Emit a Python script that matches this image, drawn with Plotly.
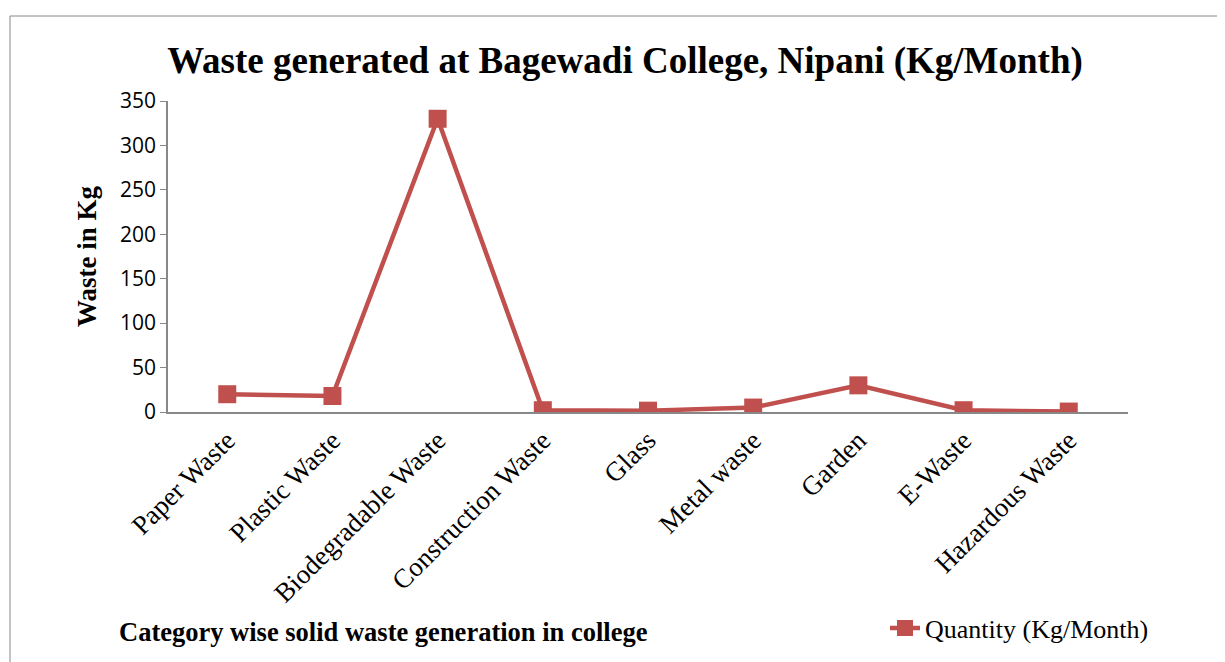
import plotly.graph_objs as go

categories = ['Paper Waste', 'Plastic Waste', 'Biodegradable Waste', 'Construction Waste',
              'Glass', 'Metal waste', 'Garden', 'E-Waste', 'Hazardous Waste']
quantity = [20, 18, 330, 2, 1.5, 5, 30, 2, 0.5]
y_ticks = [0, 50, 100, 150, 200, 250, 300, 350]

red = '#C0504D'
serif = 'Liberation Serif'

fig = go.Figure(go.Scatter(
    x=categories, y=quantity, mode='lines+markers',
    name='Quantity (Kg/Month)',
    line=dict(color=red, width=4.5),
    marker=dict(symbol='square', size=18, color=red),
))

# plot area in figure pixels: x 160..1120, y 93..404 (page has 8px body offset)
fig.update_layout(
    width=1225, height=662,
    autosize=False,
    margin=dict(l=160, r=105, t=93, b=258),
    paper_bgcolor='white',
    plot_bgcolor='white',
    title=dict(text='<b>Waste generated at Bagewadi College, Nipani (Kg/Month)</b>',
               x=617 / 1225, xanchor='center', y=1 - 52 / 662, yanchor='middle',
               font=dict(family=serif, size=37, color='black')),
    showlegend=True,
    legend=dict(x=(877 - 160) / 960, y=(404 - 620) / 311, xanchor='left', yanchor='middle',
                font=dict(family=serif, size=26, color='black'),
                bgcolor='rgba(0,0,0,0)'),
    xaxis=dict(tickangle=-45, showgrid=False, showline=True, linecolor='#888888', linewidth=1.5,
               ticks='', tickfont=dict(family=serif, size=27, color='black')),
    yaxis=dict(range=[0, 350], tickvals=y_ticks, showgrid=False, showline=True,
               linecolor='#888888', linewidth=1.5, ticks='outside', ticklen=6, tickcolor='#888888',
               tickfont=dict(family='Open Sans', size=21, color='black'), zeroline=False,
               title=dict(text='<b>Waste in Kg</b>', standoff=16,
                          font=dict(family=serif, size=27, color='black'))),
)

fig.add_annotation(text='<b>Category wise solid waste generation in college</b>',
                   xref='paper', yref='paper', x=(109 - 160) / 960, y=(404 - 624) / 311,
                   xanchor='left', yanchor='middle', showarrow=False,
                   font=dict(family=serif, size=26.5, color='black'))

fig.add_shape(type='rect', xref='paper', yref='paper',
              x0=(2 - 160) / 960, x1=(1240 - 160) / 960,
              y0=(404 - 680) / 311, y1=(404 - 8) / 311,
              line=dict(color='#888888', width=1))

fig.write_html("out.html")
